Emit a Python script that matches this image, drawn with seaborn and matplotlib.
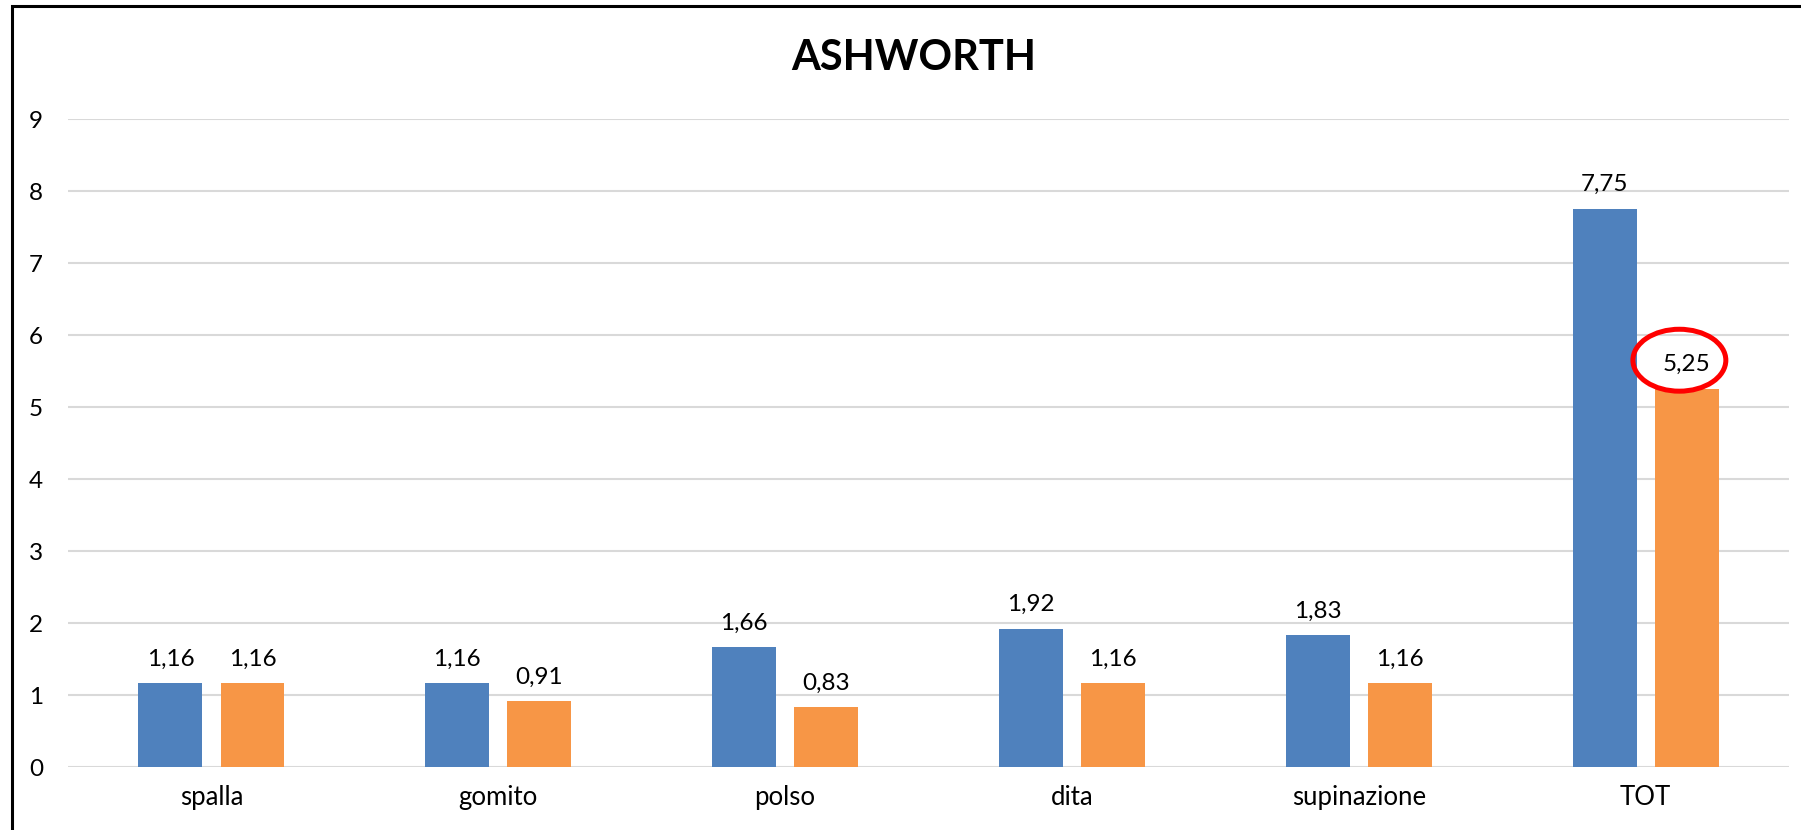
import matplotlib
matplotlib.use("Agg")
import matplotlib.pyplot as plt
from matplotlib.patches import Ellipse, Rectangle
import pandas as pd
import seaborn as sns

# Ashworth scale scores per district, before/after
categories = ["spalla", "gomito", "polso", "dita", "supinazione", "TOT"]
serie_1 = [1.16, 1.16, 1.66, 1.92, 1.83, 7.75]
serie_2 = [1.16, 0.91, 0.83, 1.16, 1.16, 5.25]
series_names = ["T0", "T1"]
y_ticks = [0, 1, 2, 3, 4, 5, 6, 7, 8, 9]
title = "ASHWORTH"

colors = ["#4F81BD", "#F79646"]

sns.set_theme(style="white")
plt.rcParams["font.family"] = ["Lato", "DejaVu Sans"]

df = pd.DataFrame({
    "categoria": categories * 2,
    "valore": serie_1 + serie_2,
    "serie": [series_names[0]] * len(categories) + [series_names[1]] * len(categories),
})

fig = plt.figure(figsize=(18.01, 8.30), dpi=100)
ax = fig.add_axes([0.0378, 0.0759, 0.9555, 0.7807])

sns.barplot(data=df, x="categoria", y="valore", hue="serie", palette=colors,
            width=0.572, gap=0.22, saturation=1, linewidth=0, errorbar=None,
            legend=False, ax=ax)

ax.set_ylim(0, 9)
ax.set_xlim(-0.5, len(categories) - 0.5)
ax.set_yticks(y_ticks)
ax.set_yticklabels([str(t) for t in y_ticks])
ax.yaxis.grid(True, color="#D9D9D9", linewidth=1.5)
ax.set_axisbelow(True)
for s in ax.spines.values():
    s.set_visible(False)
ax.set_xlabel("")
ax.set_ylabel("")
ax.tick_params(axis="y", length=0, pad=18, labelsize=17.5, labelcolor="black")
ax.tick_params(axis="x", length=0, pad=13, labelsize=18.5, labelcolor="black")

# value labels with decimal comma
for cont, vals in zip(ax.containers, [serie_1, serie_2]):
    ax.bar_label(cont, labels=[f"{v:.2f}".replace(".", ",") for v in vals],
                 padding=10, fontsize=17.5, color="black")

# red ring highlighting the final total of the second series
tot_bar = ax.containers[1].patches[-1]
cx = tot_bar.get_x() + tot_bar.get_width() / 2 - 0.025
cy = serie_2[-1] + 0.4
ax.add_patch(Ellipse((cx, cy), width=0.324, height=0.86, fill=False,
                     edgecolor="#FF0000", linewidth=3.6, clip_on=False, zorder=5))

fig.text(0.5075, 1 - 58 / 830, title, ha="center", va="center",
         fontsize=30, fontweight="bold", color="black")

# chart frame
fig.patches.append(Rectangle((12 / 1801, -0.1), 1.2, 1 - 6.5 / 830 + 0.1,
                             transform=fig.transFigure, fill=False,
                             edgecolor="black", linewidth=2.2))

fig.savefig("out.png", dpi=100, facecolor="white")
